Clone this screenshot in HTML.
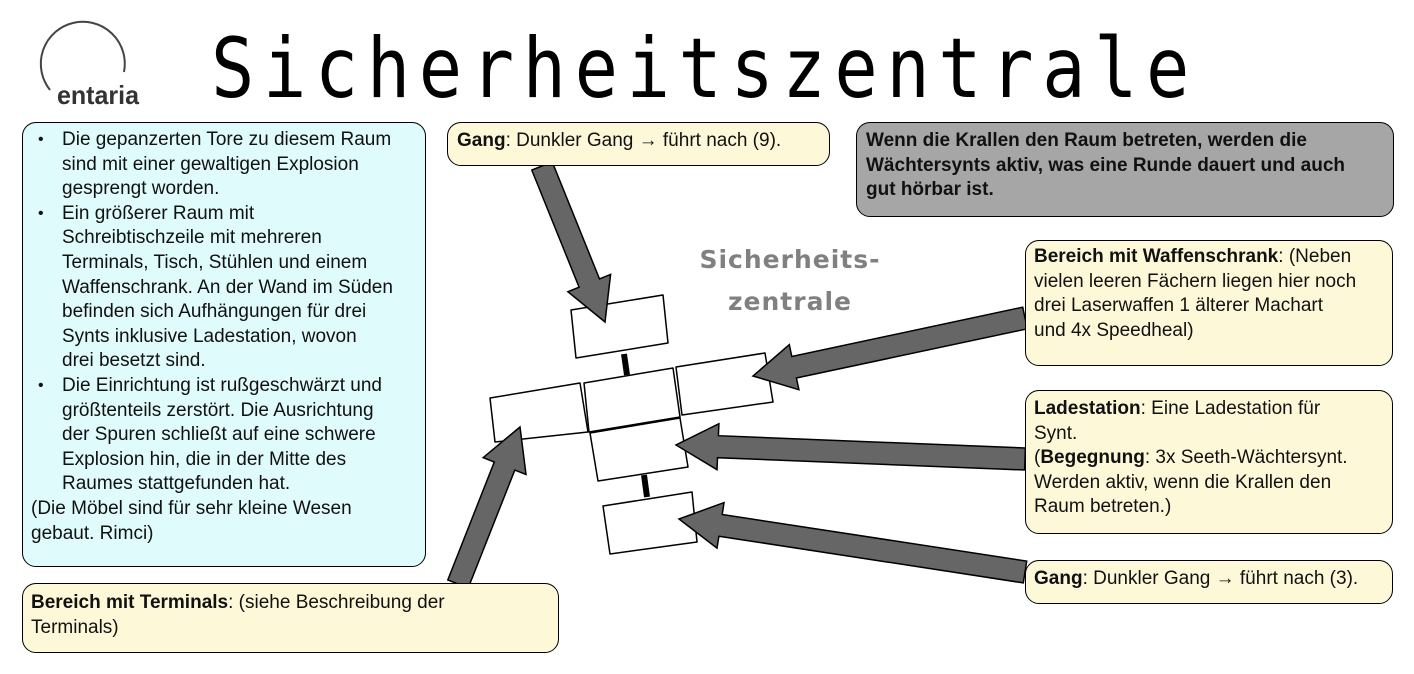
<!DOCTYPE html>
<html><head><meta charset="utf-8"><style>
body{margin:0;width:1414px;height:674px;background:#fff;position:relative;overflow:hidden;font-family:"Liberation Sans",sans-serif;}
.b{position:absolute;border:1.5px solid #000;border-radius:14px;box-sizing:border-box;font-size:19px;line-height:24.6px;color:#111;white-space:nowrap;}
.y{background:#fdf8d8;}
.t{position:absolute;left:211px;top:22px;font-family:"DejaVu Sans Mono","Liberation Mono",monospace;font-size:72px;letter-spacing:8.6px;color:#000;transform:scaleY(1.15);transform-origin:top left;line-height:80px;}
ul{margin:0;padding:0;list-style:none;}
li{padding-left:33px;position:relative;}
li::before{content:"•";position:absolute;left:9px;top:0;font-size:16px;}
</style></head><body>
<svg width="1414" height="674" style="position:absolute;left:0;top:0">
<path d="M50 90 A42 42 0 1 1 124 72" fill="none" stroke="#444" stroke-width="2"/>
<text x="57" y="104" font-family="Liberation Sans Narrow,Liberation Sans,sans-serif" font-weight="bold" font-size="26" fill="#333" textLength="82" lengthAdjust="spacingAndGlyphs">entaria</text>
<g fill="#fff" stroke="#000" stroke-width="1.5" stroke-linejoin="round">
<polygon points="571,310 663,295 668,343 576,358"/>
<polygon points="490,398 580,383 588,432 495,442"/>
<polygon points="584,383 673,368 680,417 589,432"/>
<polygon points="676,367 765,353 773,402 682,415"/>
<polygon points="590,433 680,418 688,467 598,481"/>
<polygon points="603,506 692,492 697,542 610,554"/>
</g>
<line x1="624" y1="354" x2="627" y2="375" stroke="#000" stroke-width="6"/>
<line x1="644" y1="475" x2="647" y2="497" stroke="#000" stroke-width="6"/>
<g id="arrows" fill="#666" stroke="#000" stroke-width="1.5" stroke-linejoin="miter"></g>
<text x="790" y="268" text-anchor="middle" font-family="DejaVu Sans,sans-serif" font-weight="bold" font-size="25" fill="#808080" letter-spacing="1">Sicherheits-</text>
<text x="790" y="310" text-anchor="middle" font-family="DejaVu Sans,sans-serif" font-weight="bold" font-size="25" fill="#808080" letter-spacing="1">zentrale</text>
</svg>
<div class="t">Sicherheitszentrale</div>
<div class="b" style="left:22px;top:122px;width:404px;height:445px;background:#e0fbfb;padding:5px 0 0 6px;">
<ul>
<li>Die gepanzerten Tore zu diesem Raum<br>sind mit einer gewaltigen Explosion<br>gesprengt worden.</li>
<li>Ein größerer Raum mit<br>Schreibtischzeile mit mehreren<br>Terminals, Tisch, Stühlen und einem<br>Waffenschrank. An der Wand im Süden<br>befinden sich Aufhängungen für drei<br>Synts inklusive Ladestation, wovon<br>drei besetzt sind.</li>
<li>Die Einrichtung ist rußgeschwärzt und<br>größtenteils zerstört. Die Ausrichtung<br>der Spuren schließt auf eine schwere<br>Explosion hin, die in der Mitte des<br>Raumes stattgefunden hat.</li>
</ul>
<div style="margin-left:2px">(Die Möbel sind für sehr kleine Wesen<br>gebaut. Rimci)</div>
</div>
<div class="b y" style="left:447px;top:122px;width:383px;height:44px;padding:6px 0 0 9px;"><b>Gang</b>: Dunkler Gang → führt nach (9).</div>
<div class="b" style="left:856px;top:122px;width:538px;height:95px;background:#a6a6a6;padding:6px 0 0 9px;font-weight:bold;">Wenn die Krallen den Raum betreten, werden die<br>Wächtersynts aktiv, was eine Runde dauert und auch<br>gut hörbar ist.</div>
<div class="b y" style="left:1025px;top:240px;width:368px;height:126px;padding:4px 0 0 8px;"><b>Bereich mit Waffenschrank</b>: (Neben<br>vielen leeren Fächern liegen hier noch<br>drei Laserwaffen 1 älterer Machart<br>und 4x Speedheal)</div>
<div class="b y" style="left:1025px;top:390px;width:368px;height:144px;padding:6px 0 0 8px;"><b>Ladestation</b>: Eine Ladestation für<br>Synt.<br>(<b>Begegnung</b>: 3x Seeth-Wächtersynt.<br>Werden aktiv, wenn die Krallen den<br>Raum betreten.)</div>
<div class="b y" style="left:1025px;top:560px;width:368px;height:44px;padding:6px 0 0 8px;"><b>Gang</b>: Dunkler Gang → führt nach (3).</div>
<div class="b y" style="left:22px;top:583px;width:537px;height:70px;padding:7px 0 0 8px;"><b>Bereich mit Terminals</b>: (siehe Beschreibung der<br>Terminals)</div>
<script>
var g=document.getElementById('arrows');
function arrow(x1,y1,x2,y2){
 var dx=x2-x1,dy=y2-y1,L=Math.hypot(dx,dy),ux=dx/L,uy=dy/L,px=-uy,py=ux;
 var w=11,hw=23,hl=42;
 var bx=x2-ux*hl,by=y2-uy*hl;
 var p=[[x1+px*w,y1+py*w],[bx+px*w,by+py*w],[bx+px*hw,by+py*hw],[x2,y2],[bx-px*hw,by-py*hw],[bx-px*w,by-py*w],[x1-px*w,y1-py*w]];
 var e=document.createElementNS('http://www.w3.org/2000/svg','polygon');
 e.setAttribute('points',p.map(function(q){return q[0].toFixed(1)+','+q[1].toFixed(1)}).join(' '));
 g.appendChild(e);
}
arrow(542,166,605,322);
arrow(1025,318,753,376);
arrow(1025,459,676,445);
arrow(1025,572,679,519);
arrow(458,584,520,427);
</script>
</body></html>
